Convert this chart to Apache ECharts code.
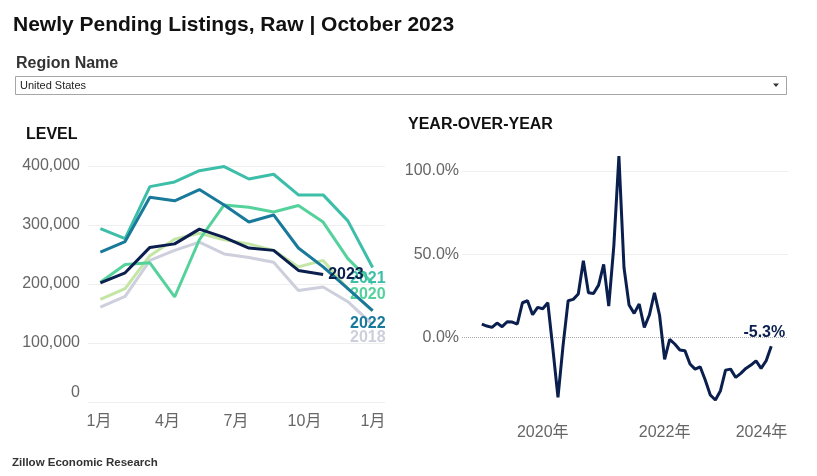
<!DOCTYPE html>
<html>
<head>
<meta charset="utf-8">
<script src="https://cdn.jsdelivr.net/npm/echarts@6/dist/echarts.min.js"></script>
<style>
html,body{margin:0;padding:0;background:#fff;}
#chart{width:817px;height:476px;}
</style>
</head>
<body>
<div id="chart"></div>
<script>
// ---- Data ----
const monthNames = ['1月','2月','3月','4月','5月','6月','7月','8月','9月','10月','11月','12月'];
const years = ['2018','2019','2020','2021','2022','2023'];
const level2018 = [161000,179000,240000,257000,271000,251000,245000,237000,189000,195000,170000,131000];
const level2019 = [174000,192000,248000,276000,286000,275000,268000,257000,229000,240000,192000,154000];
const level2020 = [203000,233000,236000,178000,275000,334000,330000,322000,333000,305000,243000,201000];
const level2021 = [294000,277000,365000,373000,392000,399000,378000,386000,351000,351000,307000,228000];
const level2022 = [254000,272000,347000,341000,360000,334000,305000,317000,261000,229000,192000,155000];
const level2023 = [202000,219000,262000,268000,293000,279000,261000,257000,223000,216000];
const levelTicks = [0,100000,200000,300000,400000];
const monthTickValues = [0,3,6,9,12];

// YoY %, monthly from 2019-01 to 2023-10
const yoyStartYear = 2019;
const yoyValues = [
  8.0, 6.8, 6.0, 8.6, 6.4, 9.4, 9.2, 8.0, 20.8, 22.0, 13.6, 18.0,
  17.2, 20.8, -7.0, -36.1, -5.0, 22.0, 22.8, 26.0, 46.1, 26.8, 26.4, 31.4,
  43.9, 18.8, 55.0, 109.0, 42.0, 19.4, 14.4, 20.0, 6.0, 13.4, 26.8, 13.4,
  -13.2, -1.2, -4.0, -7.6, -8.0, -16.0, -19.1, -17.7, -25.7, -34.7, -37.7, -32.1,
  -19.7, -19.1, -24.1, -21.7, -18.7, -16.7, -14.1, -18.7, -14.1, -5.3
];
const yoyTickValues = [12, 36, 60]; // months since 2019-01 -> 2020, 2022, 2024
const yoyPctTicks = [0, 50, 100];

// ---- Styles ----
const FONT = "'Liberation Sans', Arial, 'Noto Sans CJK SC', sans-serif";
const seriesStyle = {
  '2018': {color:'#cdd0dc', label:true, off:[0,13]},
  '2019': {color:'#c3e6a4', label:false},
  '2020': {color:'#55d29c', label:true, off:[0,11]},
  '2021': {color:'#3cbea8', label:true, off:[0,11]},
  '2022': {color:'#18799a', label:true, off:[0,13]},
  '2023': {color:'#0b1f4e', label:true}
};
const levelData = {'2018':level2018,'2019':level2019,'2020':level2020,'2021':level2021,'2022':level2022,'2023':level2023};

const chart = echarts.init(document.getElementById('chart'), null, {renderer:'canvas'});

const levelSeries = years.map((y, k) => {
  const st = seriesStyle[y];
  let endLabel = {show:false};
  if (st.label) {
    if (y === '2023') {
      endLabel = {show:true, formatter:y, distance:5, color:st.color,
        fontFamily:FONT, fontWeight:'bold', fontSize:16};
    } else {
      endLabel = {show:true, formatter:y, align:'right', distance:13,
        offset:st.off, color:st.color, fontFamily:FONT, fontWeight:'bold', fontSize:16};
    }
  }
  return {
    type:'line', name:y, xAxisIndex:0, yAxisIndex:0,
    data: levelData[y], symbol:'none', clip:false, z: 2 + k,
    lineStyle:{width:3, color:st.color}, itemStyle:{color:st.color},
    endLabel: endLabel, animation:false, silent:true
  };
});

const yoyData = yoyValues.map((v, i) => [i, v]);

const option = {
  animation:false,
  backgroundColor:'#ffffff',
  textStyle:{fontFamily:FONT},
  grid:[
    {left:88, right:817-385, top:166, bottom:476-402},
    {left:462, right:817-788, top:171, bottom:476-420.5}
  ],
  xAxis:[
    {gridIndex:0, type:'category', data:monthNames, boundaryGap:true, position:'bottom',
     axisLine:{show:false, onZero:false}, axisTick:{show:false}, axisLabel:{show:false}, splitLine:{show:false}},
    {gridIndex:0, type:'value', min:-0.482, max:12.526, position:'bottom',
     axisLine:{show:false, onZero:false}, axisTick:{show:false}, splitLine:{show:false},
     axisLabel:{show:true, customValues:monthTickValues, margin:12, color:'#666666', fontSize:16, fontFamily:FONT,
       formatter: v => monthNames[((v % 12) + 12) % 12]}},
    {gridIndex:1, type:'value', min:-3.9, max:60.3, position:'bottom',
     axisLine:{show:false, onZero:false}, axisTick:{show:false}, splitLine:{show:false},
     axisLabel:{show:true, customValues:yoyTickValues, margin:4, color:'#666666', fontSize:16, fontFamily:FONT,
       formatter: v => {
         const t = (yoyStartYear + v/12) + '年';
         return v === 60 ? '{r|' + t + '}' : t;
       },
       rich:{r:{padding:[0,50,0,0], color:'#666666', fontSize:16, fontFamily:FONT}}}}
  ],
  yAxis:[
    {gridIndex:0, type:'value', min:0, max:400000, interval:100000,
     axisLine:{show:false}, axisTick:{show:false},
     splitLine:{show:true, lineStyle:{color:'#efefef', width:1}},
     axisLabel:{margin:8, color:'#666666', fontSize:16, fontFamily:FONT,
       customValues: levelTicks,
       formatter: v => v === 0 ? '{z|0}' : v.toLocaleString('en-US'),
       rich:{z:{padding:[0,0,18,0], color:'#666666', fontSize:16, fontFamily:FONT}}}},
    {gridIndex:1, type:'value', min:-50, max:100, interval:50,
     axisLine:{show:false}, axisTick:{show:false}, splitLine:{show:false},
     axisLabel:{margin:3, color:'#666666', fontSize:16, fontFamily:FONT,
       customValues: yoyPctTicks,
       formatter: v => v.toFixed(1) + '%'}}
  ],
  series: levelSeries.concat([{
    type:'line', name:'YoY', xAxisIndex:2, yAxisIndex:1, data:yoyData,
    symbol:'none', clip:false, z:10, silent:true,
    lineStyle:{width:3, color:'#0b1f4e'}, itemStyle:{color:'#0b1f4e'},
    endLabel:{show:true, align:'right', distance:14, offset:[0,-14],
      formatter: p => p.value[1].toFixed(1) + '%', color:'#0b1f4e', fontFamily:FONT,
      fontWeight:'bold', fontSize:16},
    markLine:{silent:true, symbol:'none', label:{show:false}, z:1,
      data:[
        {yAxis:0, lineStyle:{type:'dotted', color:'#aaaaaa', width:1}},
        {yAxis:50, lineStyle:{type:'solid', color:'#efefef', width:1}},
        {yAxis:100, lineStyle:{type:'solid', color:'#efefef', width:1}}
      ]}
  }]),
  graphic:[
    {type:'text', x:13, y:25, style:{text:'Newly Pending Listings, Raw | October 2023', font:'bold 21px ' + FONT, fill:'#111111', verticalAlign:'middle'}},
    {type:'text', x:16, y:64, style:{text:'Region Name', font:'bold 16px ' + FONT, fill:'#333333', verticalAlign:'middle'}},
    {type:'rect', shape:{x:15.5, y:76.5, width:771, height:18}, style:{fill:'#ffffff', stroke:'#a6a6a6', lineWidth:1}},
    {type:'text', x:20, y:85.5, style:{text:'United States', font:'11px ' + FONT, fill:'#222222', verticalAlign:'middle'}},
    {type:'polygon', shape:{points:[[773,83.5],[779,83.5],[776,87]]}, style:{fill:'#333333'}},
    {type:'text', x:26, y:135, style:{text:'LEVEL', font:'bold 16px ' + FONT, fill:'#111111', verticalAlign:'middle'}},
    {type:'text', x:408, y:125, style:{text:'YEAR-OVER-YEAR', font:'bold 16px ' + FONT, fill:'#111111', verticalAlign:'middle'}},
    {type:'text', x:12, y:463, style:{text:'Zillow Economic Research', font:'bold 11.5px ' + FONT, fill:'#333333', verticalAlign:'middle'}}
  ]
};
chart.setOption(option);
</script>
</body>
</html>
